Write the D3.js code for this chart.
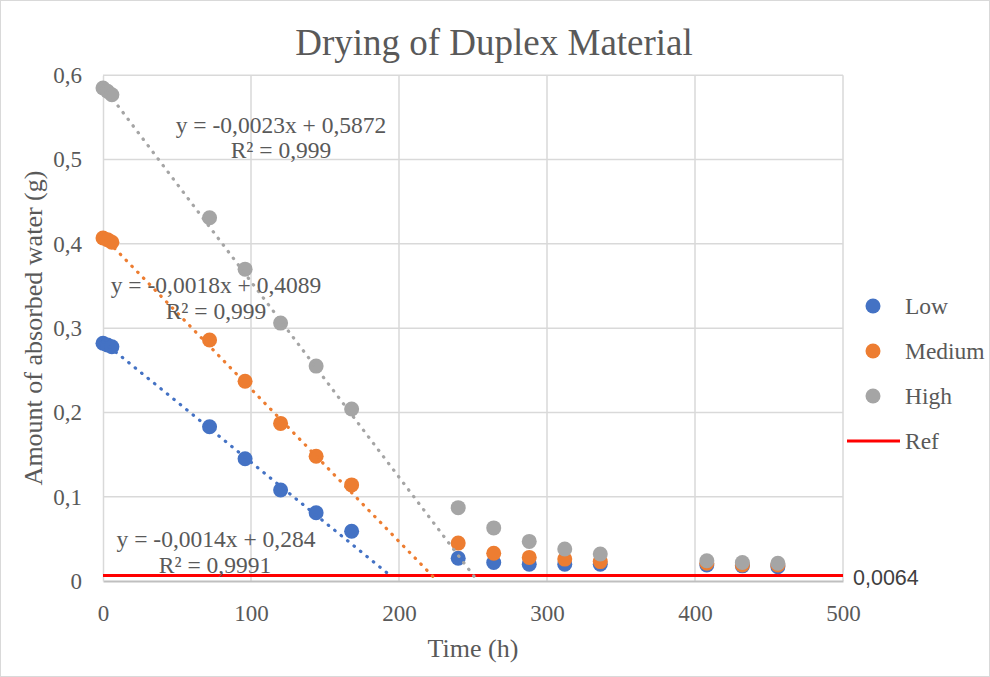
<!DOCTYPE html>
<html>
<head>
<meta charset="utf-8">
<script src="https://cdn.jsdelivr.net/npm/d3@7"></script>
<style>
  html, body { margin: 0; padding: 0; background: #fff; }
  svg { display: block; }
</style>
</head>
<body>
<svg id="chart" width="990" height="677"></svg>
<script>
// ---- Data ----
const times  = [0, 3, 6, 72, 96, 120, 144, 168, 240, 264, 288, 312, 336, 408, 432, 456];
const low    = [0.282, 0.280, 0.278, 0.183, 0.145, 0.108, 0.081, 0.059, 0.027, 0.022, 0.020, 0.020, 0.020, 0.019, 0.018, 0.017];
const medium = [0.407, 0.405, 0.402, 0.286, 0.237, 0.187, 0.148, 0.114, 0.045, 0.033, 0.028, 0.026, 0.023, 0.021, 0.019, 0.019];
const high   = [0.585, 0.581, 0.577, 0.431, 0.370, 0.306, 0.255, 0.204, 0.087, 0.063, 0.047, 0.038, 0.032, 0.024, 0.022, 0.021];
const seriesNames = ["Low", "Medium", "High"];
const refValue = 0.0064;
const refLabel = "0,0064";
const trendSlopes = [-0.00143, -0.00181, -0.00232];
const trendIntercepts = [0.284, 0.4089, 0.5872];
const trendEnds = [192, 223, 251];
const trendEquations = ["y = -0,0014x + 0,284", "y = -0,0018x + 0,4089", "y = -0,0023x + 0,5872"];
const trendR2 = ["R² = 0,9991", "R² = 0,999", "R² = 0,999"];
const xTicks = [0, 100, 200, 300, 400, 500];
const yTicks = [0, 0.1, 0.2, 0.3, 0.4, 0.5, 0.6];

// ---- Styles ----
const colors = ["#4472C4", "#ED7D31", "#A5A5A5"];
const serif = "'Liberation Serif', 'Times New Roman', serif";
const textColor = "#595959";

const svg = d3.select("#chart");
const W = 990, H = 677;
const plot = { left: 103, right: 843, top: 75.3, bottom: 581 };

svg.append("rect").attr("x", 0.5).attr("y", 0.5).attr("width", W - 1).attr("height", H - 1)
  .attr("fill", "#fff").attr("stroke", "#D9D9D9").attr("stroke-width", 1);

const x = d3.scaleLinear().domain([0, 500]).range([plot.left, plot.right]);
const y = d3.scaleLinear().domain([0, 0.6]).range([plot.bottom, plot.top]);

const fmt = v => d3.format("")(Math.round(v * 10) / 10).replace(".", ",");

// Gridlines
const grid = svg.append("g");
grid.selectAll("line.h").data(yTicks.filter(t => t > 0)).join("line")
  .attr("x1", plot.left).attr("x2", plot.right)
  .attr("y1", d => y(d)).attr("y2", d => y(d))
  .attr("stroke", "#D9D9D9").attr("stroke-width", 1.5);
grid.selectAll("line.v").data(xTicks.filter(t => t > 0)).join("line")
  .attr("y1", plot.top).attr("y2", plot.bottom)
  .attr("x1", d => x(d)).attr("x2", d => x(d))
  .attr("stroke", "#D9D9D9").attr("stroke-width", 1.5);

// Axes
const xAxis = d3.axisBottom(x).tickValues(xTicks).tickSize(0).tickPadding(24).tickFormat(d => d);
const gx = svg.append("g").attr("transform", `translate(0,${plot.bottom})`).call(xAxis);
gx.select(".domain").attr("stroke", "#BFBFBF").attr("stroke-width", 2);
gx.selectAll("text").attr("font-family", serif).attr("font-size", 23).attr("fill", textColor);

const yAxis = d3.axisLeft(y).tickValues(yTicks).tickSize(0).tickPadding(21).tickFormat(fmt);
const gy = svg.append("g").attr("transform", `translate(${plot.left},0)`).call(yAxis);
gy.select(".domain").attr("stroke", "#D9D9D9").attr("stroke-width", 1.5);
gy.selectAll("text").attr("font-family", serif).attr("font-size", 23).attr("fill", textColor);

// Ref line
svg.append("line")
  .attr("x1", x(0)).attr("x2", x(500))
  .attr("y1", y(refValue)).attr("y2", y(refValue))
  .attr("stroke", "#FF0000").attr("stroke-width", 3);
svg.append("text").attr("x", x(500) + 10).attr("y", y(refValue) + 9)
  .attr("font-family", "'Liberation Sans', Arial, sans-serif").attr("font-size", 21.5)
  .attr("fill", "#404040").text(refLabel);

// Markers
const allSeries = [low, medium, high];
allSeries.forEach((vals, i) => {
  svg.append("g").selectAll("circle").data(times.map((t, j) => [t, vals[j]])).join("circle")
    .attr("cx", d => x(d[0])).attr("cy", d => y(d[1])).attr("r", 7.5)
    .attr("fill", colors[i]);
});

// Trendlines
const line = d3.line().x(d => x(d[0])).y(d => y(d[1]));
trendSlopes.forEach((s, i) => {
  const pts = [[0, trendIntercepts[i]], [trendEnds[i], trendIntercepts[i] + s * trendEnds[i]]];
  svg.append("path").attr("d", line(pts))
    .attr("fill", "none").attr("stroke", colors[i]).attr("stroke-width", 3.2)
    .attr("stroke-linecap", "round").attr("stroke-dasharray", "0.5,7.8");
});

// Trend labels
const labelPos = [
  { eq: [216, 547], r2: [215, 573] },
  { eq: [216, 293], r2: [216, 319] },
  { eq: [281, 133], r2: [281, 158] }
];
labelPos.forEach((p, i) => {
  svg.append("text").attr("x", p.eq[0]).attr("y", p.eq[1]).attr("text-anchor", "middle")
    .attr("font-family", serif).attr("font-size", 23.5).attr("fill", textColor).text(trendEquations[i]);
  svg.append("text").attr("x", p.r2[0]).attr("y", p.r2[1]).attr("text-anchor", "middle")
    .attr("font-family", serif).attr("font-size", 23.5).attr("fill", textColor).text(trendR2[i]);
});

// Title
svg.append("text").attr("x", 494).attr("y", 55).attr("text-anchor", "middle")
  .attr("font-family", serif).attr("font-size", 37).attr("fill", textColor)
  .text("Drying of Duplex Material");

// Axis titles
svg.append("text").attr("x", 473).attr("y", 657).attr("text-anchor", "middle")
  .attr("font-family", serif).attr("font-size", 26).attr("fill", textColor).text("Time (h)");
svg.append("text").attr("transform", "translate(42,328) rotate(-90)").attr("text-anchor", "middle")
  .attr("font-family", serif).attr("font-size", 26).attr("fill", textColor)
  .text("Amount of absorbed water (g)");

// Legend
const legY = [306, 351, 396, 441];
const lg = svg.append("g");
seriesNames.forEach((n, i) => {
  lg.append("circle").attr("cx", 873).attr("cy", legY[i]).attr("r", 7.5).attr("fill", colors[i]);
  lg.append("text").attr("x", 905).attr("y", legY[i] + 8).attr("font-family", serif)
    .attr("font-size", 23.5).attr("fill", textColor).text(n);
});
lg.append("line").attr("x1", 847).attr("x2", 900).attr("y1", legY[3]).attr("y2", legY[3])
  .attr("stroke", "#FF0000").attr("stroke-width", 3);
lg.append("text").attr("x", 905).attr("y", legY[3] + 8).attr("font-family", serif)
  .attr("font-size", 23.5).attr("fill", textColor).text("Ref");
</script>
</body>
</html>
